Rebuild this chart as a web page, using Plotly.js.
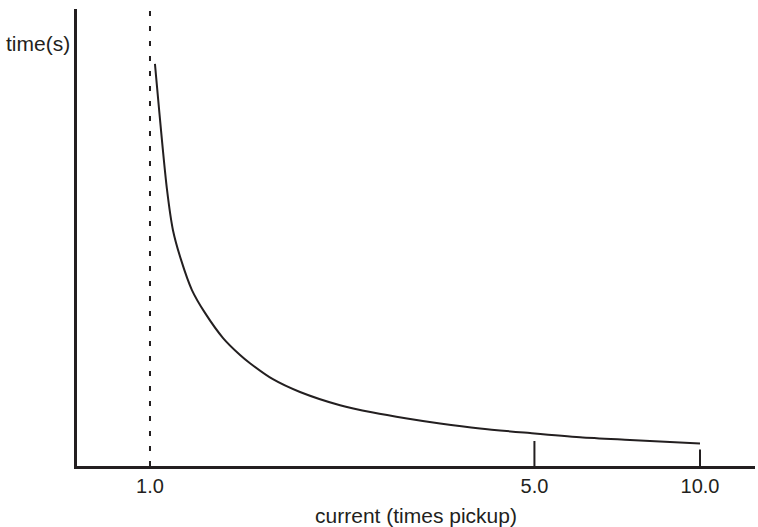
<!DOCTYPE html>
<html>
<head>
<meta charset="utf-8">
<script src="https://cdn.plot.ly/plotly-3.0.1.min.js"></script>
<style>
  html, body { margin: 0; padding: 0; background: #ffffff; }
  #chart { width: 758px; height: 527px; }
</style>
</head>
<body>
<div id="chart"></div>
<script>
// Inverse-time curve (current in multiples of pickup, time in arbitrary units)
var currentMultiple = [1.021, 1.074, 1.101, 1.139, 1.192, 1.259, 1.358, 1.458, 1.520, 1.673, 1.874, 2.216, 2.544, 2.933, 3.368, 3.981, 4.909, 6.051, 7.459, 10.0];
var operatingTime   = [8.80, 6.04, 5.16, 4.51, 3.85, 3.35, 2.80, 2.43, 2.25, 1.90, 1.62, 1.33, 1.17, 1.04, 0.93, 0.82, 0.72, 0.63, 0.57, 0.49];

// Pickup reference (dashed) and marker lines at 5.0 and 10.0
var pickupX = [1, 1];
var pickupY = [0, 9.98];
var marker5X = [5, 5];
var marker5Y = [0, 0.547];
var marker10X = [10, 10];
var marker10Y = [0, 0.36];

var tickValues = [1, 5, 10];
var tickLabels = ["1.0", "5.0", "10.0"];

var ink = "#231f20";
var fontFam = "'Liberation Sans', Arial, Helvetica, sans-serif";

var traces = [
  { x: pickupX, y: pickupY, mode: "lines", line: { color: ink, width: 2, dash: "5px,10px" }, hoverinfo: "skip" },
  { x: marker5X, y: marker5Y, mode: "lines", line: { color: ink, width: 2 }, hoverinfo: "skip" },
  { x: marker10X, y: marker10Y, mode: "lines", line: { color: ink, width: 2 }, hoverinfo: "skip" },
  { x: currentMultiple, y: operatingTime, mode: "lines", line: { color: ink, width: 2, shape: "spline", smoothing: 0.8 } }
];

var layout = {
  width: 758,
  height: 527,
  margin: { l: 77, r: 3, t: 9, b: 61 },
  paper_bgcolor: "#ffffff",
  plot_bgcolor: "#ffffff",
  showlegend: false,
  font: { family: fontFam, color: ink, size: 20 },
  xaxis: {
    type: "log",
    range: [-0.1327, 1.1],
    tickvals: tickValues,
    ticktext: tickLabels,
    ticks: "",
    tickfont: { size: 20, color: ink, family: fontFam },
    showline: true,
    linecolor: ink,
    linewidth: 3,
    showgrid: false,
    zeroline: false,
    title: { text: "current (times pickup)", font: { size: 21, color: ink, family: fontFam }, standoff: 14 }
  },
  yaxis: {
    range: [0, 10],
    showline: true,
    linecolor: ink,
    linewidth: 3,
    showgrid: false,
    zeroline: false,
    showticklabels: false,
    ticks: ""
  },
  annotations: [
    { text: "time(s)", xref: "paper", yref: "paper", x: -0.0074, y: 0.925, xanchor: "right", yanchor: "middle",
      showarrow: false, font: { size: 21, color: ink, family: fontFam } }
  ]
};

Plotly.newPlot("chart", traces, layout, { displayModeBar: false, staticPlot: true });
</script>
</body>
</html>
